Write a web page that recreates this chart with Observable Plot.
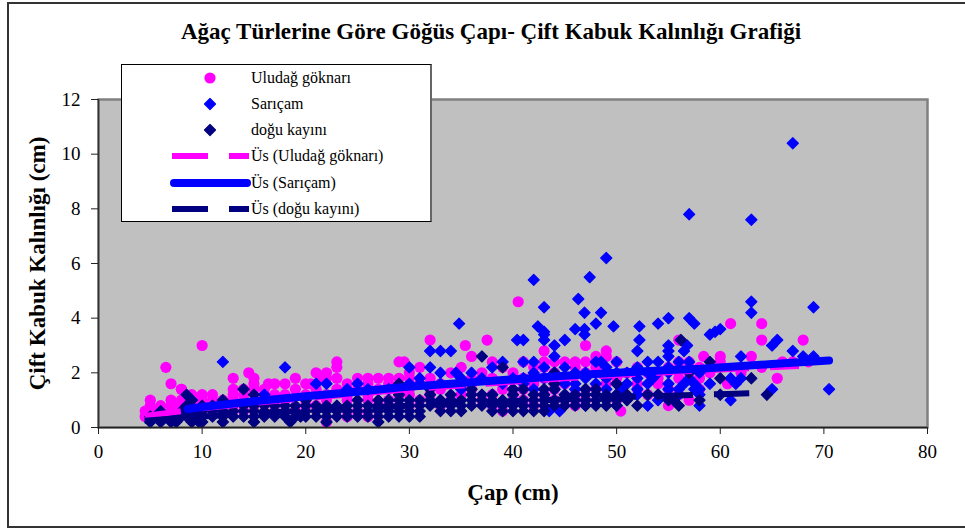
<!DOCTYPE html>
<html lang="tr">
<head>
<meta charset="utf-8">
<script src="https://cdn.jsdelivr.net/npm/d3@7"></script>
<script src="https://cdn.jsdelivr.net/npm/@observablehq/plot@0.6"></script>
<style>
html,body{margin:0;padding:0;background:#fff;overflow:hidden}
#wrap{position:relative;width:965px;height:529px;font-family:"Liberation Serif",serif;color:#000}
#wrap svg{position:absolute;left:0;top:0}
.chrome{position:absolute;box-sizing:border-box;border-left:2px solid #333;border-top:2px solid #333;border-bottom:2px solid #333;left:7px;top:2px;width:958px;height:526px;pointer-events:none}
#title{position:absolute;left:0;width:982px;top:19px;text-align:center;font:bold 23px "Liberation Serif",serif;white-space:nowrap}
#legend{position:absolute;left:121px;top:64px;width:311px;height:158px;box-sizing:border-box;border:1.5px solid #000;border-right:2px solid #666;background:#fff}
#legend div{position:absolute;font-size:16px;line-height:16px;white-space:nowrap;left:129px}
#legend svg{position:absolute;left:0;top:0}
</style>
</head>
<body>
<div id="wrap"><div id="chart"></div><div class="chrome"></div><div id="title">Ağaç Türlerine Göre Göğüs Çapı- Çift Kabuk Kalınlığı Grafiği</div><div id="legend"></div></div>
<script>
const xTicks = [0,10,20,30,40,50,60,70,80];
const yTicks = [0,2,4,6,8,10,12];
const legendLabels = ["Uludağ göknarı","Sarıçam","doğu kayını","Üs (Uludağ göknarı)","Üs (Sarıçam)","Üs (doğu kayını)"];

// points, listed as [thickness, diameters...]
const uludagRows = [
 [0.2,22],
 [0.4,4.5,5,5.5,24,26],
 [0.6,4.5,5.5,6,7,8,9,10,12,14,19,25,39,50.4],
 [0.8,5,6,7,7.5,8,9,10,11,12,13,15,17,20,21,27,30,33,38,42,46,55],
 [1.0,5,7,8,9,10,11,12,13,14,16,18,20,22,24,26,28,31,34,37,41,44,47,50,57],
 [1.2,9,10,11,13,14,16,17,18,20,22,24,26,29,30,32,35,38,40,43,46,53,56],
 [1.4,8,13,14,15,16,19,21,23,25,27,28,30,33,36,39,41,44,48,52,55,58],
 [1.6,15,16.4,17,18,20,20.5,24,26,28,31,33,35,39,42,45,49,52,54,60.7],
 [1.8,13,15,19,21.5,22,23,25,26,27,28,29,30,32,36,38,41,43,45,50,54,56,58,65.5],
 [2.0,14.5,21,22,30,34,37,40,44,47,49,51,53,57,59,62],
 [2.2,23,31,35,39,42,43,46,48,52,55,58,64],
 [2.4,23,29,29.5,38,41,43,44,45,46,47,48,50,56,57,60,66,67,68.5],
 [2.6,36,48,49,58.4,60,63],
 [2.8,43,49],
 [3.0,10,35.4,47],
 [3.2,32,37.5,56,64,68],
 [3.8,61,64],
 [4.6,40.5],
 [2.2,6.5],[1.6,7],[1.4,8]
];
const saricamRows = [
 [0.6,43.5,44.5],
 [0.8,47,50,53,58],
 [1.0,9,33,45,47,49,54,61],
 [1.2,16,38,43,45,46,48,50,52,53,54,56,58],
 [1.4,24,26,28,35,40,42,44,46,47,49,50.5,52,55,56,57.5,58,65,70.5],
 [1.6,21,22,25,30,31,33,39,41,44,45,46,48,50,51,53,55,56.5,57.5,59,61.5],
 [1.8,31,35,37,40,41,43,45,47,49,52,53.5,57,61,62],
 [2.0,33,34.5,36,42,44,46,47,50,51,53,54,55,58],
 [2.2,18,30,32,38,43,45,49,52,55],
 [2.4,12,39,41,42,48,48.5,50,53,54,56,57],
 [2.6,44,55,62,68,69],
 [2.8,32,33,34,52,55,56.5,67],
 [3.0,44,55,56.8,65],
 [3.2,40.4,41,43,45,52.2,65.5],
 [3.4,43,46.9,59],
 [3.5,43,59.5],
 [3.6,46,46.9,60],
 [3.7,42.4,49.7,52.2],
 [3.8,34.8,48,54,57.5],
 [4.0,55,57],
 [4.2,46.9,48.5,63],
 [4.4,43,69],
 [4.6,63],[4.7,46.3],[5.4,42],[5.5,47.4],[6.2,49],[7.6,63],[7.8,57],[10.4,67]
];
const doguRows = [
 [0.2,5,6,7,7.5,9,9.7,10,12,15,18.5,22,27],
 [0.4,5,5.5,6,6.5,7,7.5,8,8.5,9,9.5,10,11,12,13,14,15,16,17,18,19,19.5,20,21,22,23,24,25,26,27,28,29,30,31],
 [0.6,6,8,9,10,11,12,13,14,15,16,17,18,19,20,21,22,23,24,25,26,27,28,29,30,31,33,34,35,38,39,40,41,42,43],
 [0.8,8.5,10,11,12,13,14,15,16,17,18,19,20,21,22,23,24,25,26,27,28,29,30,31,32,33,34,35,36,37,38,39,40,41,42,43,44,45,46,47,48,49,50,52,56],
 [1.0,9,12,20,25,27,28,29,30,31,32,33,34,35,36,37,38,39,40,41,42,43,44,45,46,47,48,49,50,51,55,55.5,58],
 [1.2,8.5,15,29,32,34,36,37,38,40,42,43,45,46,47,48,49,50,51,53,54,60,64.5],
 [1.4,14,32,36,40,41,43,44,47,48],
 [1.6,29,44,50],
 [1.8,60,63],
 [2.0,44,57],
 [2.2,39],
 [2.4,59],
 [2.6,37],
 [3.2,56.2]
];
// trend lines
const uludagTrend = [[4.5,0.42],[7,0.55],[10,0.7],[15,0.9],[20,1.07],[25,1.24],[30,1.4],[35,1.54],[40,1.67],[45,1.8],[50,1.92],[55,2.02],[60,2.12],[67.6,2.25]];
const saricamTrend = [[8.6,0.68],[10,0.75],[15,0.96],[20,1.14],[25,1.31],[29.2,1.47],[35,1.63],[40,1.76],[45,1.89],[50,2.0],[55,2.1],[58.1,2.15],[65,2.32],[70.5,2.45]];
const doguTrend = [[4.45,0.25],[7,0.32],[10,0.4],[15,0.52],[20,0.62],[25,0.72],[30,0.8],[35,0.88],[40,0.96],[45,1.03],[48.5,1.09],[54,1.15],[60,1.22],[62.8,1.25]];

const expand = rows => rows.flatMap(([y, ...xs]) => xs.map(x => ({x, y})));
const toPts = pairs => pairs.map(([x, y]) => ({x, y}));

const MAGENTA = "#ff00ff", BLUE = "#0000ff", NAVY = "#000080";

const chart = Plot.plot({
  width: 965, height: 529,
  marginLeft: 98, marginRight: 38, marginTop: 99, marginBottom: 102,
  style: {background: "transparent", fontFamily: '"Liberation Serif",serif', overflow: "visible"},
  x: {domain: [0, 80]},
  y: {domain: [0, 12]},
  marks: [
    Plot.frame({fill: "#c0c0c0", stroke: "#808080", strokeWidth: 2.5}),
    Plot.dot(expand(uludagRows), {x: "x", y: "y", r: 5.6, fill: MAGENTA, stroke: "none"}),
    Plot.dot(expand(saricamRows), {x: "x", y: "y", r: 5, symbol: "diamond2", fill: BLUE, stroke: BLUE, strokeWidth: 1.2, strokeLinejoin: "round"}),
    Plot.dot(expand(doguRows), {x: "x", y: "y", r: 5, symbol: "diamond2", fill: NAVY, stroke: NAVY, strokeWidth: 1.2, strokeLinejoin: "round"}),
    Plot.line(toPts(uludagTrend), {x: "x", y: "y", stroke: MAGENTA, strokeWidth: 6, strokeDasharray: "36 21", strokeLinecap: "butt"}),
    Plot.line(toPts(doguTrend), {x: "x", y: "y", stroke: NAVY, strokeWidth: 6, strokeDasharray: "36 21", strokeLinecap: "butt"}),
    Plot.line(toPts(saricamTrend), {x: "x", y: "y", stroke: BLUE, strokeWidth: 8, strokeLinecap: "round"}),
    Plot.ruleX([0], {stroke: "#333", strokeWidth: 1.5}),
    Plot.ruleY([0], {stroke: "#222", strokeWidth: 1.5}),
    Plot.axisX({ticks: xTicks, tickSize: 7, tickPadding: 10, fontSize: 19, stroke: "#222", fill: "#000", label: null}),
    Plot.axisY({ticks: yTicks, tickSize: 7, tickPadding: 11, fontSize: 19, stroke: "#222", fill: "#000", label: null}),
    Plot.text(["Çap (cm)"], {frameAnchor: "bottom", dy: 72, fontSize: 23, fontWeight: "bold", fill: "#000"}),
    Plot.text(["Çift Kabuk Kalınlığı (cm)"], {frameAnchor: "left", textAnchor: "middle", dx: -61, rotate: -90, fontSize: 23, fontWeight: "bold", fill: "#000"})
  ]
});
document.getElementById("chart").append(chart);

// legend
const legend = document.getElementById("legend");
const rowY = [13,39,65,91,118,144];
legendLabels.forEach((t, i) => {
  const d = document.createElement("div");
  d.textContent = t;
  d.style.top = (rowY[i] - 8) + "px";
  legend.append(d);
});
const s = d3.create("svg").attr("width", 301).attr("height", 158);
s.append("circle").attr("cx", 88).attr("cy", rowY[0]).attr("r", 5.6).attr("fill", MAGENTA);
[[rowY[1], BLUE], [rowY[2], NAVY]].forEach(([cy, c]) => {
  s.append("path").attr("d", d3.symbol(d3.symbolDiamond2, 77)()).attr("transform", `translate(88,${cy})`).attr("fill", c).attr("stroke", c).attr("stroke-width", 1.2).attr("stroke-linejoin", "round");
});
[[rowY[3], MAGENTA], [rowY[5], NAVY]].forEach(([cy, c]) => {
  s.append("line").attr("x1", 50).attr("x2", 127).attr("y1", cy).attr("y2", cy)
    .attr("stroke", c).attr("stroke-width", 6).attr("stroke-dasharray", "36 21");
});
s.append("line").attr("x1", 52).attr("x2", 125).attr("y1", rowY[4]).attr("y2", rowY[4])
  .attr("stroke", BLUE).attr("stroke-width", 8).attr("stroke-linecap", "round");
legend.append(s.node());
</script>
</body>
</html>
